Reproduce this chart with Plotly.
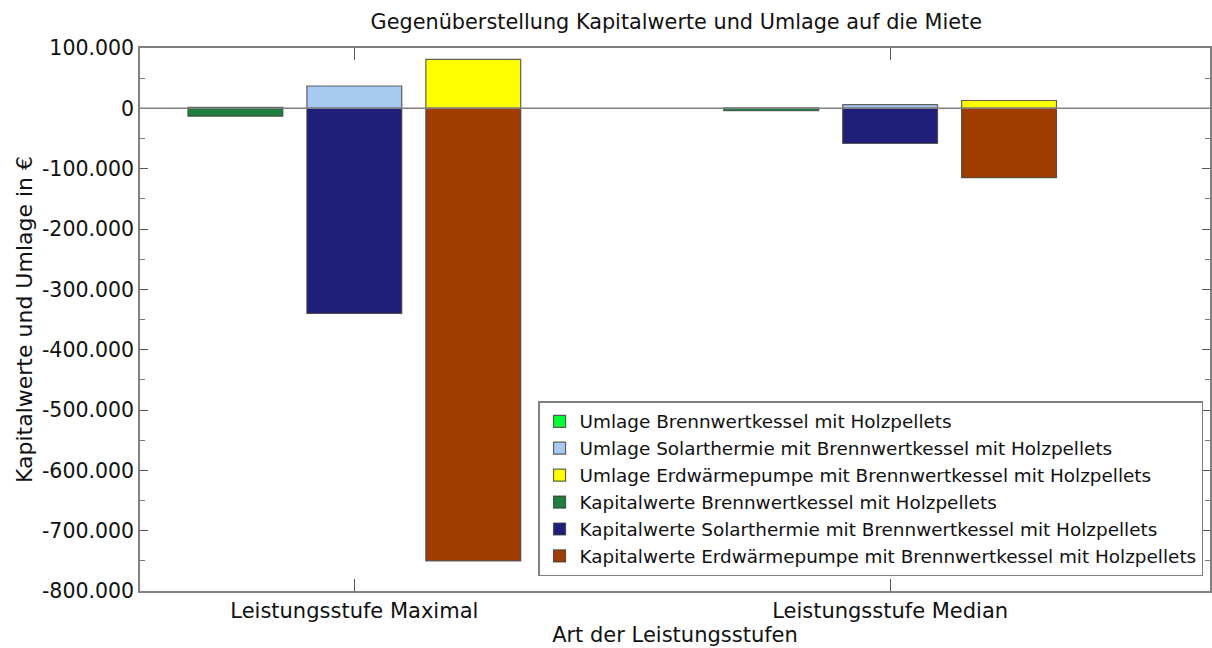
import plotly.graph_objects as go

categories = ["Leistungsstufe Maximal", "Leistungsstufe Median"]

umlage_brennwert = [1500, 500]
umlage_solar = [37000, 6000]
umlage_erdwaerme = [81000, 13000]
kapital_brennwert = [-13000, -4000]
kapital_solar = [-340000, -58000]
kapital_erdwaerme = [-750000, -115000]

series_names = [
    "Umlage Brennwertkessel mit Holzpellets",
    "Umlage Solarthermie mit Brennwertkessel mit Holzpellets",
    "Umlage Erdwärmepumpe mit Brennwertkessel mit Holzpellets",
    "Kapitalwerte Brennwertkessel mit Holzpellets",
    "Kapitalwerte Solarthermie mit Brennwertkessel mit Holzpellets",
    "Kapitalwerte Erdwärmepumpe mit Brennwertkessel mit Holzpellets",
]
series_values = [umlage_brennwert, umlage_solar, umlage_erdwaerme,
                 kapital_brennwert, kapital_solar, kapital_erdwaerme]
colors = ["#00ff33", "#a8caf0", "#ffff00", "#1f7f3f", "#1f1f7a", "#a03c00"]

y_tickvals = [100000, 0, -100000, -200000, -300000, -400000, -500000, -600000, -700000, -800000]
y_ticktext = ["100.000", "0", "-100.000", "-200.000", "-300.000", "-400.000",
              "-500.000", "-600.000", "-700.000", "-800.000"]

bar_width = 0.177
slot_offsets = [-0.3105, -0.0885, 0.1335]

fig = go.Figure()
for i, (name, vals, col) in enumerate(zip(series_names, series_values, colors)):
    fig.add_trace(go.Bar(
        x=categories, y=vals, name=name, legendgroup=f"g{i}",
        marker=dict(color=col, line=dict(color="rgba(60,60,60,0.8)", width=1.2)),
        width=bar_width, offset=slot_offsets[i % 3],
    ))

fig.add_shape(type="line", xref="paper", x0=0, x1=1, yref="y", y0=0, y1=0,
              line=dict(color="#808080", width=1.5), layer="above")

font_family = "DejaVu Sans, Verdana, sans-serif"
fig.update_layout(
    barmode="overlay",
    width=1212, height=648,
    margin=dict(l=140, r=2, t=48, b=57),
    paper_bgcolor="white", plot_bgcolor="white",
    font=dict(family=font_family, color="#111111", size=18),
    title=dict(text="Gegenüberstellung Kapitalwerte und Umlage auf die Miete",
               x=0.558, xanchor="center", y=0.966, yanchor="middle",
               font=dict(size=20.8, color="#111111")),
    showlegend=True,
    legend=dict(x=0.9935, xanchor="right", y=0.027, yanchor="bottom",
                bgcolor="white", bordercolor="#808080", borderwidth=1.5,
                font=dict(size=18.4), traceorder="normal", tracegroupgap=0,
                itemwidth=30),
    xaxis=dict(
        range=[-0.4, 1.597], showgrid=False, zeroline=False,
        showline=True, linecolor="#808080", linewidth=1.5, mirror="ticks",
        ticks="inside", ticklen=12, tickcolor="#555555", tickwidth=1,
        tickfont=dict(size=21),
        title=dict(text="Art der Leistungsstufen", font=dict(size=21), standoff=1),
        automargin=False,
    ),
    yaxis=dict(
        range=[-800000, 100000], showgrid=False, zeroline=False,
        showline=True, linecolor="#808080", linewidth=1.5, mirror="ticks",
        ticks="inside", ticklen=8, tickcolor="#555555", tickwidth=1,
        tickvals=y_tickvals, ticktext=y_ticktext,
        tickfont=dict(size=20.5),
        minor=dict(ticks="inside", dtick=50000, ticklen=5, tickcolor="#777777"),
        title=dict(text="Kapitalwerte und Umlage in €", font=dict(size=22), standoff=3),
        automargin=False,
    ),
)

fig.write_html("out.html", config={"displayModeBar": False},
               post_script="document.body.style.margin='0';document.body.style.padding='0';")
